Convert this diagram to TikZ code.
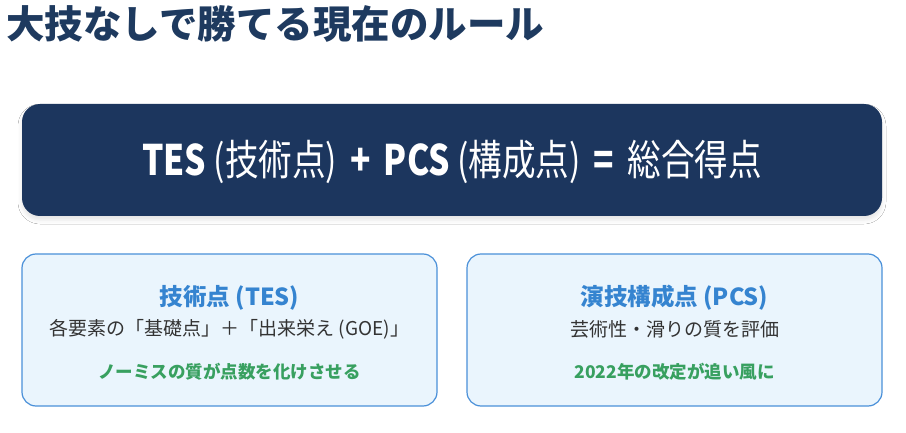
\documentclass[tikz,border=0pt]{standalone}
\usepackage{fontspec}
\setmainfont{Noto Sans CJK JP}
\usepackage{graphicx}
\usetikzlibrary{shadows.blur}
\definecolor{navy}{HTML}{1C365E}
\definecolor{ttl}{HTML}{1E3A5F}
\definecolor{cardfill}{HTML}{EAF5FD}
\definecolor{cardline}{HTML}{4A90D9}
\definecolor{cardttl}{HTML}{3584D0}
\definecolor{bodytxt}{HTML}{333333}
\definecolor{grn}{HTML}{38A060}
\tikzset{
  card/.style={draw=cardline, line width=1.2pt, fill=cardfill, rounded corners=14pt, minimum width=415pt, minimum height=152pt, inner sep=0pt},
  cardhead/.style={text=cardttl, font=\fontsize{23.5}{27}\selectfont\bfseries, inner sep=0pt},
  cardbody/.style={text=bodytxt, font=\fontsize{19}{22}\selectfont, inner sep=0pt},
  cardnote/.style={text=grn, font=\fontsize{17.5}{20}\selectfont\bfseries, inner sep=0pt},
}
\begin{document}
\begin{tikzpicture}[x=1pt,y=-1pt]
\useasboundingbox[fill=white] (0,0) rectangle (906,433);
\node[anchor=west, text=ttl, font=\fontsize{38.5}{42}\selectfont\bfseries, inner sep=0pt] (title) at (6,24) {大技なしで勝てる現在のルール};
\node[fill=navy, rounded corners=18pt, minimum width=860pt, minimum height=112pt, inner sep=0pt, blur shadow={shadow xshift=0pt, shadow yshift=-4pt, shadow blur radius=4pt, shadow opacity=10}] (formula) at (452,160) {};
\node[text=white, inner sep=0pt, font=\fontsize{42}{46}\selectfont] (ftext) at (452,162) {\scalebox{0.8}[1]{\textbf{TES} (技術点) \,\textbf{+}\, \textbf{PCS} (構成点) \,\textbf{=}\, 総合得点}};
\node[card] (tes) at (229.5,330) {};
\node[card] (pcs) at (674.5,330) {};
\node[cardhead] (tesh) at (229.5,298) {技術点 (TES)};
\node[cardbody] (tesb) at (229.5,329) {各要素の「基礎点」＋「出来栄え (GOE)」};
\node[cardnote] (tesn) at (229.5,372) {ノーミスの質が点数を化けさせる};
\node[cardhead] (pcsh) at (674.5,298) {演技構成点 (PCS)};
\node[cardbody] (pcsb) at (674.5,329) {芸術性・滑りの質を評価};
\node[cardnote] (pcsn) at (674.5,372) {2022年の改定が追い風に};
\end{tikzpicture}
\end{document}
